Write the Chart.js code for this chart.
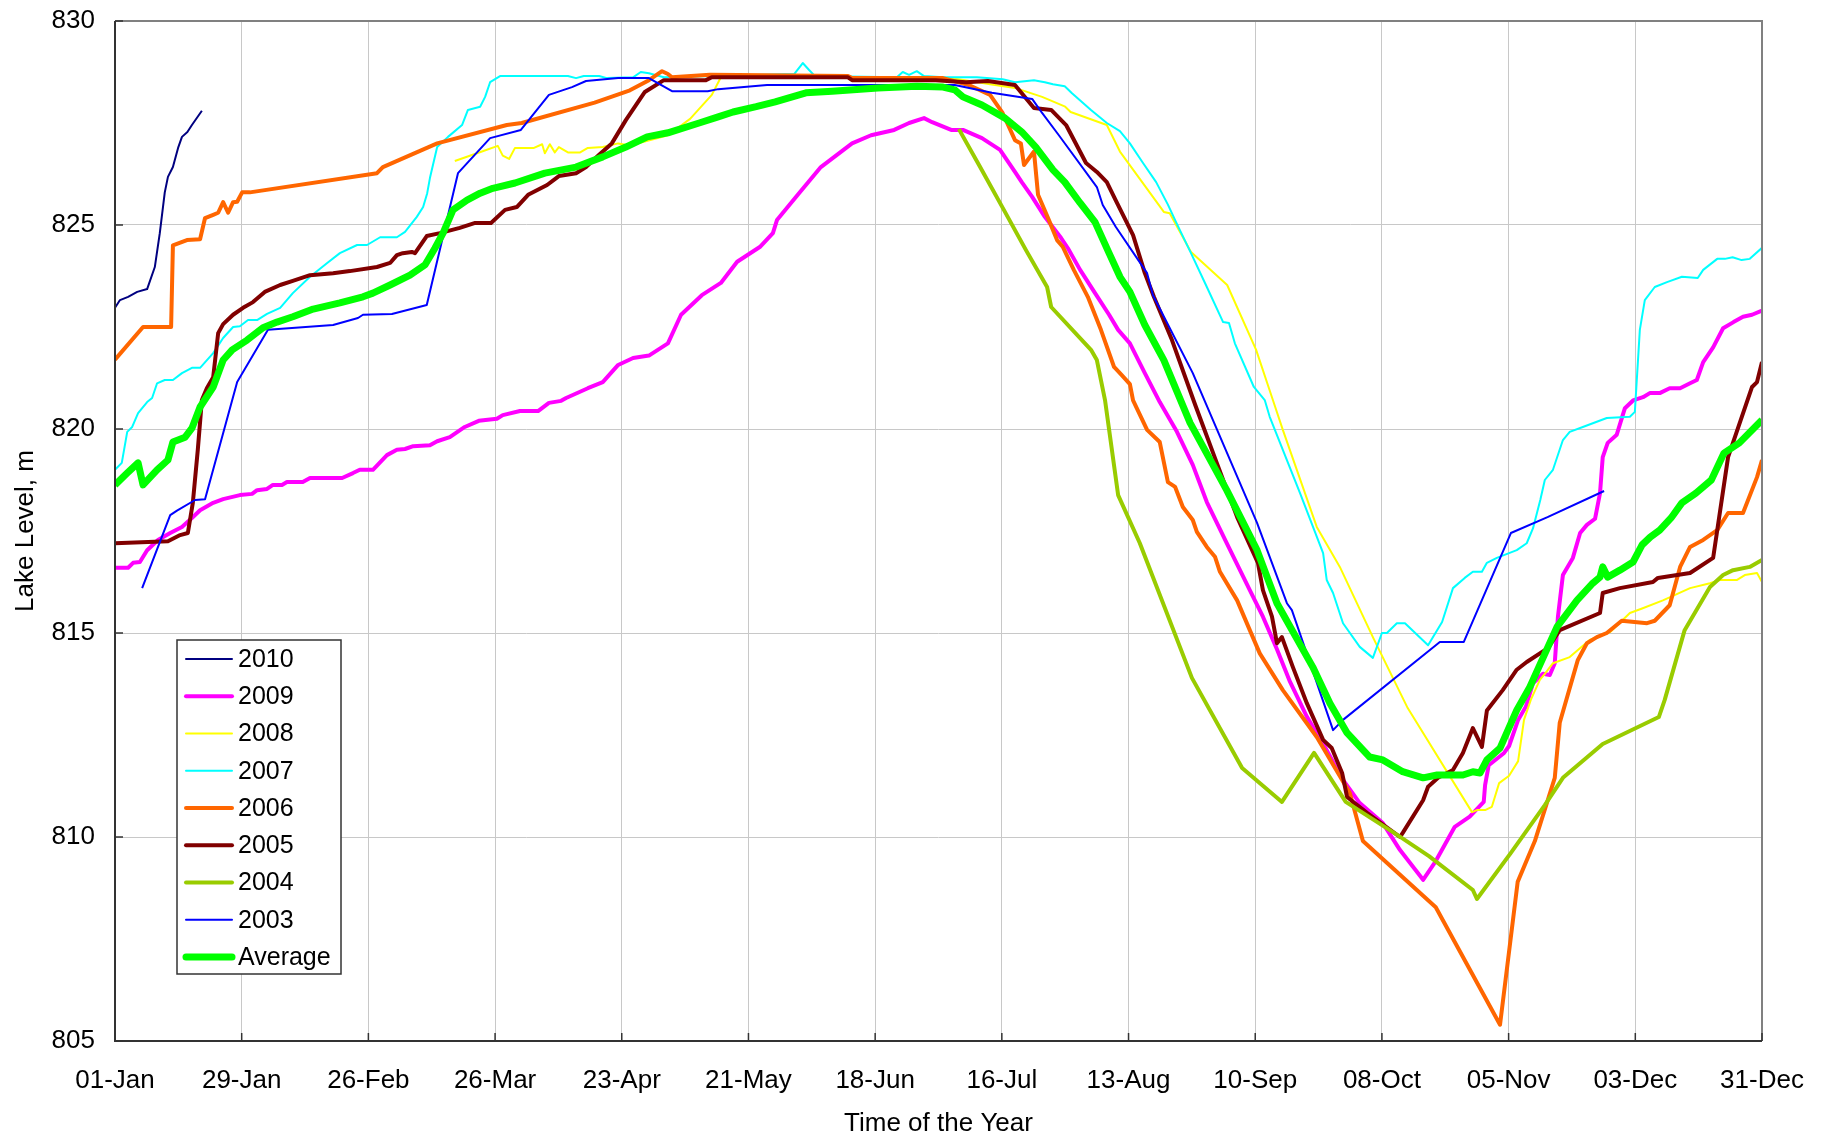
<!DOCTYPE html>
<html>
<head>
<meta charset="utf-8">
<title>Lake Level</title>
<script src="https://cdn.jsdelivr.net/npm/chart.js@4.4.1/dist/chart.umd.min.js"></script>
<style>
  html, body { margin: 0; padding: 0; background: #fff; }
  #wrap { width: 1833px; height: 1139px; }
</style>
</head>
<body>
<div id="wrap"><canvas id="lakeChart" width="1833" height="1139"></canvas></div>
<script>
// day of year (0 = 01-Jan) and lake level in m
const xTickLabels = ['01-Jan', '29-Jan', '26-Feb', '26-Mar', '23-Apr', '21-May', '18-Jun',
  '16-Jul', '13-Aug', '10-Sep', '08-Oct', '05-Nov', '03-Dec', '31-Dec'];

const lake2010 = [[0,822.97],[1.1,823.16],[2.9,823.24],[4.9,823.36],[7.1,823.43],[8.8,823.97],
  [9.9,824.8],[11,825.8],[11.7,826.18],[12.8,826.42],[14,826.91],[14.8,827.16],[16,827.28],
  [17,827.45],[19.2,827.8]];

const lake2009 = [[0,816.6],[2.9,816.6],[4,816.72],[5.5,816.74],[7.1,817.03],[9.5,817.28],
  [12.2,817.45],[14.8,817.6],[17,817.82],[18.8,818.01],[21.7,818.19],[23.9,818.28],[27.6,818.38],
  [30.3,818.41],[31.4,818.5],[33.6,818.53],[34.9,818.63],[36.9,818.63],[38,818.7],[41.5,818.7],
  [43.1,818.8],[50.2,818.8],[52.6,818.92],[54.1,819],[57,819],[60.1,819.36],[62.3,819.49],
  [64.1,819.51],[65.9,819.58],[69.6,819.6],[71.2,819.7],[74,819.8],[77.3,820.05],[80.4,820.2],
  [84.4,820.25],[85.7,820.34],[89.5,820.44],[93.5,820.44],[95.9,820.64],[98.6,820.69],
  [99.7,820.76],[104.5,821],[107.8,821.15],[111.2,821.57],[114.5,821.74],[118,821.8],
  [122.2,822.1],[125.1,822.8],[129.7,823.28],[133.9,823.58],[137.5,824.1],[142.5,824.46],
  [145.4,824.8],[146.3,825.12],[150.9,825.74],[156,826.42],[162.9,827],[167.1,827.2],
  [172.2,827.33],[175.5,827.5],[178.8,827.62],[180.6,827.52],[184.8,827.33],[187.4,827.33],
  [191.6,827.13],[195.6,826.84],[198.9,826.3],[200.4,826.05],[202.7,825.69],[205.5,825.2],
  [209.1,824.68],[210.6,824.43],[213.3,823.9],[216.6,823.33],[219.7,822.8],[221.7,822.43],
  [224.3,822.1],[227.6,821.37],[230.9,820.66],[234.7,819.93],[238.2,819.12],[241.3,818.21],
  [245.7,817.2],[250.8,816.05],[253.7,815.4],[256.8,814.6],[259.7,813.8],[263.4,812.95],
  [267.8,812.13],[271.4,811.4],[275.1,810.83],[280.2,810.34],[284,809.68],[289.1,808.95],
  [291.9,809.41],[296.1,810.25],[299.4,810.5],[302.5,810.86],[302.8,811.27],[303.6,811.76],
  [307,812.06],[308.1,812.23],[310.1,812.87],[311.8,813.19],[313.4,813.77],[315.6,814],
  [317.1,813.97],[318.2,814.26],[318.9,815.4],[320,816.42],[322.2,816.84],[323.8,817.45],
  [325.3,817.65],[327.1,817.8],[328.2,818.43],[328.8,819.31],[329.9,819.66],[331.9,819.86],
  [333.7,820.51],[335.5,820.7],[337.7,820.78],[339.2,820.88],[341.4,820.88],[343.6,821],
  [345.9,821],[348.1,821.12],[349.6,821.2],[351,821.64],[353.2,822],[355.4,822.47],
  [357.7,822.62],[359.8,822.75],[361.8,822.8],[364,822.9]];

const lake2008 = [[75.1,826.57],[81.1,826.8],[84.6,826.94],[85.7,826.7],[87.1,826.62],
  [88.4,826.89],[92.6,826.89],[94.4,826.98],[95,826.76],[96.1,826.98],[97.2,826.78],
  [98.1,826.91],[100.1,826.78],[102.8,826.78],[104.5,826.89],[107.8,826.91],[111.2,827],
  [113.8,826.95],[122.2,827.2],[127.1,827.6],[131.9,828.19],[133.9,828.62],[185,828.6],
  [193.4,828.45],[198.9,828.36],[204.9,828.14],[210,827.9],[211.2,827.77],[219.2,827.45],
  [222.1,826.8],[231.8,825.32],[233.1,825.29],[237.8,824.34],[245.8,823.53],[252.2,821.94],
  [255.9,820.71],[258.1,819.98],[265.6,817.6],[270.7,816.62],[278,814.9],[285.7,813.16],
  [299.9,810.61],[301,810.66],[302.8,810.66],[304.3,810.74],[305.9,811.32],[308.1,811.5],
  [310.1,811.86],[311.4,812.87],[312.9,813.36],[314.9,813.85],[316,814],[317.8,814.26],
  [321.5,814.41],[325.9,814.83],[330.4,815.02],[334.8,815.49],[337.5,815.6],[342.1,815.8],
  [348.1,816.1],[352.5,816.22],[354.7,816.3],[358.5,816.3],[360.2,816.42],[362.9,816.47],
  [364,816.25]];

const lake2007 = [[0,819],[1.5,819.17],[2.7,819.93],[3.8,820.05],[5.1,820.39],[7.1,820.66],
  [8.2,820.76],[9.3,821.12],[11,821.2],[12.8,821.2],[14.8,821.37],[17,821.5],[18.8,821.5],
  [21.7,821.86],[23.9,822.23],[26.1,822.5],[27.6,822.52],[29.4,822.67],[31.4,822.67],
  [33.6,822.82],[36.5,822.97],[39.3,823.33],[43.1,823.73],[46.9,824.07],[49.7,824.31],
  [53.5,824.51],[55.7,824.51],[58.6,824.7],[62.3,824.7],[64.1,824.83],[66.7,825.2],
  [68.1,825.44],[69,825.78],[69.6,826.15],[71.2,826.91],[73.6,827.16],[76.7,827.45],
  [78,827.82],[80.7,827.9],[81.8,828.14],[82.9,828.5],[85.1,828.65],[100.1,828.65],
  [101.9,828.6],[103.6,828.65],[107,828.65],[108.7,828.6],[114.5,828.62],[116.2,828.75],
  [118,828.72],[121.3,828.62],[150.1,828.7],[152,828.97],[153.4,828.8],[154.7,828.65],
  [172.8,828.62],[174.1,828.75],[175.5,828.68],[177.2,828.77],[178.8,828.65],[183,828.62],
  [190.5,828.62],[196.2,828.57],[198.9,828.5],[203.1,828.55],[205.5,828.5],[207.3,828.45],
  [209.9,828.4],[211.5,828.23],[215.7,827.82],[219.2,827.5],[222.1,827.3],[224.3,827],
  [227.2,826.52],[230.1,826.05],[232.7,825.5],[234.5,825.07],[237.8,824.31],[241.1,823.53],
  [244.9,822.62],[246.2,822.6],[247.5,822.1],[251.7,821.03],[254.1,820.71],[255.2,820.3],
  [261.9,818.43],[267,816.96],[267.8,816.3],[269.2,815.98],[271.4,815.24],[275.1,814.66],
  [278,814.39],[280,815],[281.1,815],[283.3,815.24],[285.1,815.24],[290.2,814.7],[293.3,815.27],
  [295.7,816.1],[298.3,816.35],[300.1,816.5],[302.1,816.5],[303.2,816.72],[305.4,816.84],
  [309.8,817.03],[312,817.2],[313.4,817.57],[315,818.26],[316,818.75],[317.8,819],[320,819.73],
  [321.5,819.93],[324.4,820.05],[329.7,820.27],[334.8,820.3],[335.9,820.42],[337,822.43],
  [338.1,823.16],[340.3,823.48],[343,823.6],[346.3,823.73],[349.8,823.7],[351,823.9],
  [354.1,824.17],[355.8,824.17],[357.5,824.21],[359.5,824.14],[361.3,824.17],[364,824.44]];

const lake2006 = [[0,821.7],[6.2,822.5],[12.4,822.5],[12.8,824.5],[15.9,824.63],[18.8,824.65],
  [19.9,825.17],[21.7,825.25],[22.8,825.3],[23.9,825.56],[25,825.3],[26.1,825.56],[27,825.57],
  [28.1,825.8],[29.8,825.8],[57.9,826.27],[59.2,826.42],[71.2,827],[86.6,827.45],[89.9,827.5],
  [106,828],[113.8,828.3],[118,828.55],[120.9,828.77],[122.2,828.7],[123.1,828.62],
  [131.5,828.68],[162,828.65],[162.9,828.6],[183,828.6],[188.7,828.43],[193.4,828.19],
  [196.2,827.74],[198.9,827.08],[200.2,827],[200.9,826.47],[203.1,826.8],[204,825.74],
  [206.4,825.12],[208.2,824.63],[209.5,824.46],[211.9,823.9],[215,823.24],[217.9,822.43],
  [220.8,821.52],[222.5,821.32],[224.3,821.1],[225,820.7],[228.1,819.98],[230.9,819.68],
  [232.7,818.7],[234.3,818.58],[236,818.09],[238.2,817.77],[239.1,817.48],[241.3,817.11],
  [243.1,816.87],[244.2,816.5],[248,815.8],[250.8,815.07],[253,814.5],[258.1,813.6],
  [265.6,812.45],[272.9,811.08],[275.8,809.9],[291.9,808.28],[306.1,805.4],[310,808.9],
  [313.8,809.9],[318.2,811.45],[319.3,812.8],[323.3,814.34],[325.3,814.75],[327.5,814.9],
  [329.7,815],[333,815.3],[338.6,815.24],[340.3,815.3],[343.6,815.68],[345.9,816.62],
  [348.1,817.11],[351,817.28],[354.1,817.52],[356.5,817.94],[359.8,817.94],[362.9,818.82],
  [364,819.24]];

const lake2005 = [[0,817.2],[11.7,817.25],[14.4,817.4],[16.1,817.45],[17.2,818.19],[18.3,819.49],
  [19.2,820.71],[20.3,821],[21.7,821.27],[22.8,822.35],[23.9,822.57],[26.1,822.8],[28.3,822.97],
  [30.5,823.11],[33.1,823.36],[36.5,823.53],[39.3,823.63],[43.1,823.77],[48.2,823.82],
  [51.9,823.87],[57.9,823.97],[60.8,824.07],[62.3,824.26],[63.6,824.31],[65.6,824.34],
  [66.3,824.31],[68.9,824.73],[71.8,824.8],[76.2,824.93],[79.6,825.05],[83.1,825.05],
  [86.2,825.37],[88.8,825.44],[91.3,825.74],[95.5,825.98],[98.1,826.2],[101.9,826.27],
  [104.1,826.42],[107,826.72],[109.8,827],[112.9,827.57],[117.1,828.26],[121.3,828.55],
  [130.6,828.55],[131.9,828.62],[162,828.62],[162.9,828.55],[181.4,828.55],[188.1,828.5],
  [192.9,828.53],[198.9,828.43],[203.1,827.87],[206.9,827.82],[210.2,827.45],[214.6,826.52],
  [217,826.3],[219.2,826.05],[221.2,825.6],[225,824.75],[227.6,823.82],[229.6,823.24],
  [233.6,822.18],[238.7,820.6],[243.5,819.17],[248,817.84],[252.6,816.72],[253.7,816.05],
  [255.7,815.4],[256.8,814.75],[257.9,814.9],[260.3,814.17],[263.4,813.28],[267,812.38],
  [268.9,812.18],[271.2,811.57],[272.3,810.98],[276.7,810.59],[284,810],[284.6,810.1],
  [289.1,810.9],[290.2,811.23],[292.4,811.45],[295.7,811.64],[297.9,812.06],[300.1,812.67],
  [302.1,812.21],[303.2,813.1],[306.7,813.6],[309.8,814.1],[312,814.29],[316.7,814.63],
  [319.3,815.07],[328.2,815.49],[328.8,815.98],[332.6,816.1],[339.9,816.25],[341,816.35],
  [348.1,816.47],[353.2,816.84],[356.5,819.31],[361.8,821.03],[362.9,821.15],[364,821.64]];

const lake2004 = [[186.5,827.35],[191.2,826.42],[196.2,825.42],[201.3,824.39],[206,823.48],
  [206.9,822.99],[215.7,821.94],[217,821.69],[218.8,820.71],[221.7,818.38],[226.5,817.2],
  [238,813.9],[249.1,811.69],[257.9,810.86],[265,812.06],[272,810.86],[283.8,810.02],
  [290.4,809.53],[300.1,808.7],[301,808.48],[308.5,809.61],[316,810.78],[320,811.45],
  [328.8,812.28],[341.2,812.94],[342.5,813.36],[346.9,815.07],[352.5,816.13],[355.4,816.42],
  [357.6,816.54],[361.3,816.62],[364,816.79]];

const lake2003 = [[6,816.1],[12.2,817.89],[13.7,818],[17.7,818.26],[19.9,818.28],[27,821.15],
  [33.8,822.43],[48.2,822.55],[53.7,822.72],[54.8,822.8],[61.2,822.82],[68.9,823.04],
  [75.8,826.27],[82.9,827.13],[89.7,827.33],[95.9,828.19],[101,828.38],[104.1,828.53],
  [111.2,828.6],[118,828.6],[123.1,828.28],[131,828.28],[133.3,828.33],[144.1,828.43],
  [185.6,828.43],[193.8,828.24],[202.7,828.09],[204.4,827.82],[208.6,827.2],[217,825.93],
  [218.3,825.49],[221.2,824.95],[228.1,823.82],[229.4,823.28],[238.2,821.37],[252.4,817.7],
  [259,815.73],[260.1,815.56],[269.2,812.62],[271.4,812.87],[292.8,814.78],[298.1,814.78],
  [308.5,817.45],[316.6,817.84],[329.1,818.48]];

const lakeAverage = [[0,818.63],[2.7,818.92],[5.1,819.17],[6.2,818.63],[9.3,819],[11.7,819.24],
  [12.8,819.68],[15.5,819.8],[17,820.02],[18.8,820.54],[21.7,821.03],[23.9,821.69],
  [25.9,821.94],[29.2,822.18],[32.7,822.48],[35.8,822.62],[39.3,822.75],[43.8,822.94],
  [49.7,823.09],[54.8,823.24],[57,823.33],[60.8,823.53],[65.2,823.77],[68.5,824.02],
  [70.7,824.43],[72.5,824.8],[74.7,825.37],[77.8,825.61],[80.7,825.78],[83.5,825.9],
  [88.4,826.03],[95,826.27],[101.9,826.42],[107.8,826.67],[112.9,826.91],[117.6,827.16],
  [122.2,827.26],[129.1,827.5],[133.3,827.65],[136.6,827.77],[141.7,827.9],[145.9,828.02],
  [152.7,828.24],[158.5,828.28],[168.6,828.36],[177.2,828.4],[183,828.38],[185.6,828.31],
  [187.4,828.14],[191.6,827.94],[196.7,827.62],[200.4,827.28],[203.5,826.91],[207.3,826.35],
  [209.9,826.05],[213.3,825.54],[216.6,825.07],[219.7,824.31],[222.1,823.73],[224.3,823.36],
  [227.6,822.55],[231.8,821.69],[237.6,820.15],[245.7,818.5],[252.4,817.03],[256.8,815.73],
  [264.7,814.17],[268.5,813.28],[272.3,812.55],[277.3,811.96],[280.2,811.89],[284.6,811.6],
  [289.1,811.45],[292.2,811.52],[297.9,811.52],[300.1,811.6],[301.7,811.57],[303.2,811.89],
  [306.1,812.18],[309.8,813.11],[312.7,813.68],[318.7,815.15],[323.1,815.8],[326.6,816.22],
  [328.2,816.37],[328.8,816.62],[329.9,816.37],[332.6,816.54],[335.5,816.74],[337.5,817.16],
  [339.3,817.35],[341.4,817.52],[343.9,817.82],[346.3,818.19],[349.4,818.43],[352.8,818.75],
  [355.6,819.41],[359,819.66],[364,820.22]];

const seriesNames = ['2010', '2009', '2008', '2007', '2006', '2005', '2004', '2003', 'Average'];
const seriesData = [lake2010, lake2009, lake2008, lake2007, lake2006, lake2005, lake2004, lake2003, lakeAverage];
const seriesColors = ['#000080', '#FF00FF', '#FFFF00', '#00FFFF', '#FF6600', '#800000', '#99CC00', '#0000FF', '#00FF00'];
const seriesWidths = [2, 4, 2, 2, 4, 4, 4, 2, 7];

const FONT = '"Liberation Sans", Arial, sans-serif';

const datasets = seriesNames.map((name, i) => ({
  label: name,
  data: seriesData[i].map(([x, y]) => ({ x, y })),
  borderColor: seriesColors[i],
  backgroundColor: seriesColors[i],
  borderWidth: seriesWidths[i],
  pointRadius: 0,
  tension: 0,
  fill: false,
  borderJoinStyle: 'round',
  order: seriesNames.length - 1 - i
}));

// plot frame with inward tick marks, like the spreadsheet original
const frame = {
  id: 'frame',
  afterDatasetsDraw(chart) {
    const { ctx, chartArea: a, scales } = chart;
    ctx.save();
    ctx.lineWidth = 2;
    ctx.strokeStyle = '#808080';
    ctx.beginPath();
    ctx.moveTo(a.left, a.top); ctx.lineTo(a.right, a.top); ctx.lineTo(a.right, a.bottom);
    ctx.stroke();
    ctx.strokeStyle = '#333';
    ctx.beginPath();
    ctx.moveTo(a.left, a.top); ctx.lineTo(a.left, a.bottom); ctx.lineTo(a.right, a.bottom);
    ctx.stroke();
    ctx.lineWidth = 1.5;
    scales.y.ticks.forEach(t => {
      const y = scales.y.getPixelForValue(t.value);
      ctx.beginPath(); ctx.moveTo(a.left, y); ctx.lineTo(a.left + 8, y); ctx.stroke();
    });
    scales.x.ticks.forEach(t => {
      const x = scales.x.getPixelForValue(t.value);
      ctx.beginPath(); ctx.moveTo(x, a.bottom); ctx.lineTo(x, a.bottom - 8); ctx.stroke();
    });
    ctx.restore();
  }
};

const boxLegend = {
  id: 'boxLegend',
  afterDraw(chart) {
    const { ctx, chartArea: a } = chart;
    const x0 = a.left + 62, y0 = a.top + 619, w = 164, h = 334;
    ctx.save();
    ctx.fillStyle = '#fff';
    ctx.fillRect(x0, y0, w, h);
    ctx.strokeStyle = '#333';
    ctx.lineWidth = 1.5;
    ctx.strokeRect(x0, y0, w, h);
    ctx.font = '25px ' + FONT;
    ctx.textBaseline = 'middle';
    chart.data.datasets.forEach((ds, i) => {
      const y = y0 + 19 + i * 37.25;
      ctx.strokeStyle = ds.borderColor;
      ctx.lineWidth = ds.borderWidth;
      ctx.lineCap = 'round';
      ctx.beginPath(); ctx.moveTo(x0 + 9, y); ctx.lineTo(x0 + 55, y); ctx.stroke();
      ctx.fillStyle = '#000';
      ctx.fillText(ds.label, x0 + 61, y + 1);
    });
    ctx.restore();
  }
};

new Chart(document.getElementById('lakeChart'), {
  type: 'line',
  data: { datasets },
  plugins: [frame, boxLegend],
  options: {
    responsive: false,
    animation: false,
    layout: { padding: { left: 0, top: 21, right: 71, bottom: 0 } },
    plugins: { legend: { display: false }, tooltip: { enabled: false } },
    scales: {
      x: {
        type: 'linear',
        min: 0,
        max: 364,
        afterFit: s => { s.height = 98; },
        grid: { color: '#c8c8c8', lineWidth: 1, drawTicks: false },
        border: { display: false },
        ticks: {
          stepSize: 28,
          autoSkip: false,
          maxRotation: 0,
          padding: 24,
          color: '#000',
          font: { family: FONT, size: 26 },
          callback: v => xTickLabels[v / 28]
        },
        title: {
          display: true,
          text: 'Time of the Year',
          color: '#000',
          font: { family: FONT, size: 26 },
          padding: { top: 0, bottom: 0 }
        }
      },
      y: {
        min: 805,
        max: 830,
        afterFit: s => { s.width = 115; s.paddingTop = 0; s.paddingBottom = 0; },
        grid: { color: '#c8c8c8', lineWidth: 1, drawTicks: false },
        border: { display: false },
        ticks: {
          stepSize: 5,
          padding: 20,
          color: '#000',
          font: { family: FONT, size: 26 }
        },
        title: {
          display: true,
          text: 'Lake Level, m',
          color: '#000',
          font: { family: FONT, size: 26 },
          padding: { top: 10, bottom: 0 }
        }
      }
    }
  }
});
</script>
</body>
</html>
